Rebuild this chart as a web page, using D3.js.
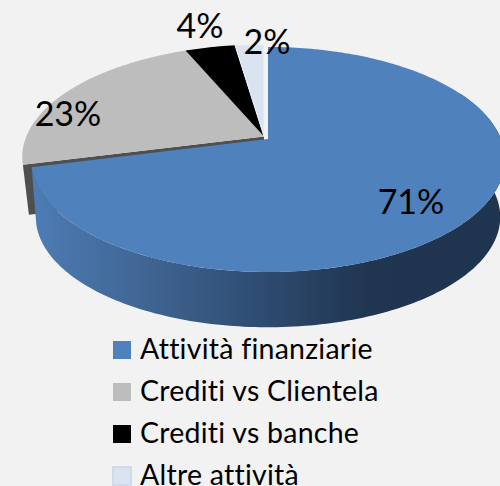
<!DOCTYPE html>
<html><head><meta charset="utf-8">
<script src="https://cdnjs.cloudflare.com/ajax/libs/d3/7.8.5/d3.min.js"></script>
<style>html,body{margin:0;padding:0;background:#f2f2f2;overflow:hidden}svg{display:block}text{font-family:Lato,"Open Sans",sans-serif;fill:#000;font-variant-ligatures:none;font-feature-settings:"liga" 0}</style>
</head><body><div id="c"></div>
<script>
const categories = ["Attività finanziarie","Crediti vs Clientela","Crediti vs banche","Altre attività"];
const values = [71, 22.7, 4.0, 2.3];
const valueLabels = ["71%","23%","4%","2%"];
const colors = ["#4f81bd","#bdbdbd","#000000","#dae4f1"];

const W=500,H=486;
const svg=d3.select("#c").append("svg").attr("width",W).attr("height",H);
svg.append("rect").attr("width",W).attr("height",H).attr("fill","#f2f2f2");

// perspective projection of the unit disc onto the tilted pie top
const persp={a:83.5,b:139,c:-0.182,d:233,cx:268};
function project(angle,r,o){
  o=o||{dx:0,dy:0,s:1};
  const u=Math.sin(angle)*r, v=-Math.cos(angle)*r, w=1+persp.c*v;
  return [persp.cx+o.dx+o.s*persp.d*u/w, (persp.a*v+persp.b)/w+o.dy];
}
function bottom(p){ return [persp.cx+(p[0]-persp.cx)*0.98, 217+(p[1]-159.5)*0.98]; }
const pie=d3.pie().sort(null).value(d=>d);
const arcs=pie(values);
const line=d3.line();
const OFF={dx:-4,dy:-2.5,s:1.02};
function samples(a0,a1,o){
  const n=Math.max(2,Math.ceil(Math.abs(a1-a0)/0.02));
  return d3.range(n+1).map(i=>project(a0+(a1-a0)*i/n,1,o));
}
function slice(a,o){
  return line([project(0,0,o),...samples(a.startAngle,a.endAngle,o)])+"Z";
}

// gradient of the pie side
const grad=svg.append("defs").append("linearGradient").attr("id","side")
  .attr("gradientUnits","userSpaceOnUse").attr("x1",36).attr("x2",500).attr("y1",0).attr("y2",0);
[[0,"#4d7bb4"],[0.25,"#3f6491"],[0.5,"#2d4a6f"],[0.72,"#20354f"],[1,"#1f344e"]]
  .forEach(s=>grad.append("stop").attr("offset",s[0]).attr("stop-color",s[1]));

// inner wall of the grey slice
const gray=arcs[1];
const gApex=project(0,0,OFF), gTip=project(gray.startAngle,1,OFF);
svg.append("path").attr("fill","#4f4f4f")
  .attr("d",line([gApex,gTip,[gTip[0]+6,gTip[1]+50],[gApex[0],gApex[1]+50]])+"Z");

// top faces of smaller slices
[1,2,3].forEach(i=>{
  svg.append("path").attr("d",slice(arcs[i],OFF)).attr("fill",colors[i]);
});
svg.append("path").attr("d",slice(arcs[3],OFF)).attr("fill","none").attr("stroke","#eef3f9").attr("stroke-width",1);

// side wall of the blue slice
const rim=samples(Math.PI*0.35,arcs[0].endAngle);
svg.append("path").attr("fill","url(#side)")
  .attr("d",line([...rim,...rim.map(bottom).reverse()])+"Z");
svg.append("path").attr("d",slice(arcs[0])).attr("fill",colors[0]);

// value labels
const labelPos=[[411,214],[68,126],[200,38],[267,54]];
valueLabels.forEach((t,i)=>{
  svg.append("text").attr("x",labelPos[i][0]).attr("y",labelPos[i][1])
    .attr("text-anchor","middle").attr("font-size",34).text(t);
});

// legend
const legendY=d3.scalePoint().domain(categories).range([359,485]);
categories.forEach((c,i)=>{
  const y=legendY(c);
  svg.append("rect").attr("x",113).attr("y",y-18).attr("width",18).attr("height",18)
    .attr("fill",colors[i]).attr("stroke",i==3?"#c6d6ea":"none").attr("stroke-width",i==3?1.5:0);
  svg.append("text").attr("x",140).attr("y",y).attr("font-size",28.5).attr("letter-spacing",0.25).text(c);
});
</script></body></html>
